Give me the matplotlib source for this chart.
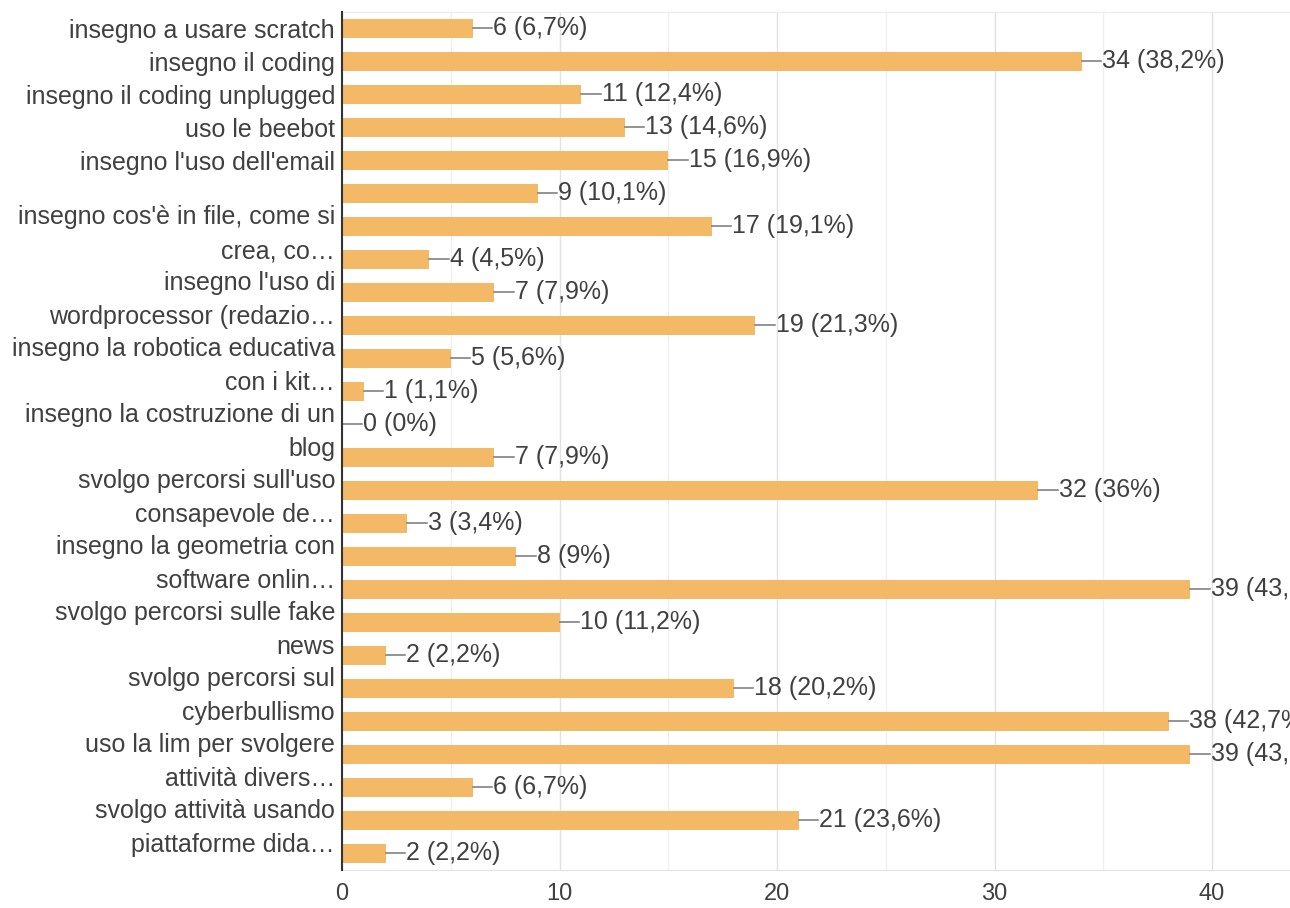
"""
Bar chart of the activities done by teachers (Google Forms style summary).
"""

import matplotlib as mpl
import matplotlib.pyplot as plt

# number of answers for each option, top to bottom
counts = [6, 34, 11, 13, 15, 9, 17, 4, 7, 19, 5, 1, 0, 7, 32, 3, 8, 39, 10,
          2, 18, 38, 39, 6, 21, 2]
n_answers = 89

# labels that are visible in the chart (the others are hidden by the layout)
labels = {
    0: "insegno a usare scratch",
    1: "insegno il coding",
    2: "insegno il coding unplugged",
    3: "uso le beebot",
    4: "insegno l'uso dell'email",
    6: "insegno cos'è in file, come si\ncrea, co\u2026",
    8: "insegno l'uso di\nwordprocessor (redazio\u2026",
    10: "insegno la robotica educativa\ncon i kit\u2026",
    12: "insegno la costruzione di un\nblog",
    14: "svolgo percorsi sull'uso\nconsapevole de\u2026",
    16: "insegno la geometria con\nsoftware onlin\u2026",
    18: "svolgo percorsi sulle fake\nnews",
    20: "svolgo percorsi sul\ncyberbullismo",
    22: "uso la lim per svolgere\nattività divers\u2026",
    24: "svolgo attività usando\npiattaforme dida\u2026",
}
x_ticks = [0, 10, 20, 30, 40]

BAR_COLOR = '#f3b966'
TEXT_COLOR = '#404040'
FONT = 'Liberation Sans'


def fmt(value):
    pct = round(value / n_answers * 100, 1)
    if pct == int(pct):
        txt = f'{int(pct)}%'
    else:
        txt = f'{pct:.1f}%'.replace('.', ',')
    return f'{value} ({txt})'


def main():
    mpl.rcParams['font.family'] = FONT
    fig = plt.figure(figsize=(12.9, 9.08), dpi=100)
    ax = fig.add_axes([342 / 1290, 1 - 870 / 908, 948 / 1290, 858 / 908])

    pos = list(range(len(counts)))
    ax.barh(pos, counts, height=0.56, color=BAR_COLOR, zorder=2)

    for i, v in enumerate(counts):
        ax.plot([v, v + 0.9], [i, i], color='#777777', lw=1.1, zorder=3,
                clip_on=False)
        ax.text(v + 0.95, i, fmt(v), va='center', ha='left', fontsize=18,
                color=TEXT_COLOR, clip_on=False)

    ax.set_xlim(0, 948 / 21.75)
    ax.set_ylim(len(counts) - 0.5, -0.5)

    ax.set_yticks(list(labels.keys()))
    ax.set_yticklabels(list(labels.values()))
    for lab in ax.get_yticklabels():
        lab.set_linespacing(1.55)
    ax.tick_params(axis='y', length=0, pad=5, labelsize=18,
                   labelcolor=TEXT_COLOR)

    ax.set_xticks(x_ticks)
    ax.set_xticks([5, 15, 25, 35], minor=True)
    ax.tick_params(axis='x', which='both', length=0, pad=9, labelsize=17,
                   labelcolor=TEXT_COLOR)
    ax.grid(axis='x', which='major', color='#e2e2e2', lw=1, zorder=0)
    ax.grid(axis='x', which='minor', color='#f0f0f0', lw=1, zorder=0)

    ax.spines['right'].set_visible(False)
    ax.spines['top'].set_color('#ececec')
    ax.spines['bottom'].set_color('#e2e2e2')
    ax.spines['left'].set_color('#333333')
    ax.spines['left'].set_linewidth(1.5)
    ax.spines['left'].set_zorder(4)

    fig.savefig('out.png', dpi=100)
    plt.close('all')


if __name__ == '__main__':
    main()
